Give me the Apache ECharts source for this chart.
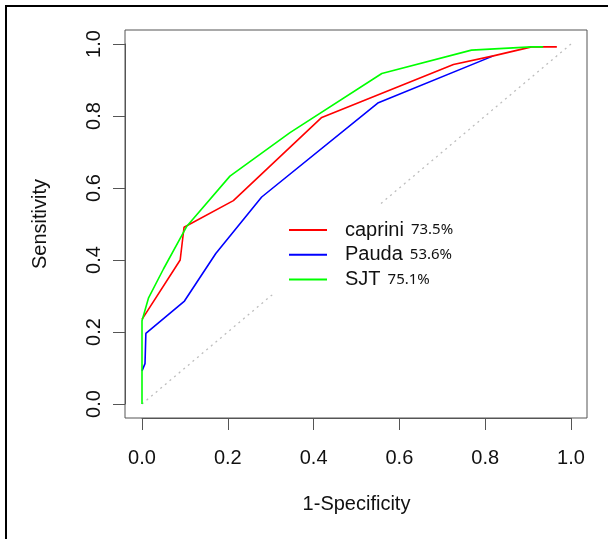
<!DOCTYPE html>
<html>
<head>
<meta charset="utf-8">
<script src="https://cdn.jsdelivr.net/npm/echarts@6/dist/echarts.min.js"></script>
<style>html,body{margin:0;padding:0;background:#fff}#c{width:608px;height:539px}</style>
</head>
<body>
<div id="c"></div>
<script>
// ---- data ----
const seriesNames = ['caprini', 'Pauda', 'SJT'];
const aucLabels = ['73.5%', '53.6%', '75.1%'];
const xTicks = [0.0, 0.2, 0.4, 0.6, 0.8, 1.0];
const yTicks = [0.0, 0.2, 0.4, 0.6, 0.8, 1.0];
const caprini = [[0,0.235],[0.089,0.40],[0.098,0.491],[0.213,0.565],[0.419,0.796],[0.726,0.943],[0.819,0.967],[0.908,0.992],[0.967,0.992]];
const pauda = [[0,0.092],[0.007,0.112],[0.009,0.196],[0.099,0.286],[0.172,0.418],[0.279,0.575],[0.551,0.837],[0.819,0.967]];
const sjt = [[0,0],[0,0.231],[0.015,0.294],[0.05,0.375],[0.104,0.493],[0.205,0.633],[0.345,0.754],[0.559,0.918],[0.768,0.983],[0.908,0.992],[0.935,0.992]];
const diagonal = [[0,0],[1,1]];

const colors = {caprini:'#ff0000', Pauda:'#0000ff', SJT:'#00ff00'};
const font = 'Liberation Sans, Arial, sans-serif';
const axisGray = '#555';

const chart = echarts.init(document.getElementById('c'), null, {renderer:'canvas'});
const aucMap = {};
seriesNames.forEach((n,i)=>aucMap[n]=aucLabels[i]);

const option = {
  animation: false,
  backgroundColor: '#fff',
  grid: [
    {left:142, right:37, top:44, bottom:135},
    {left:125, right:21, top:30, bottom:121, show:true, borderColor:axisGray, borderWidth:1, backgroundColor:'transparent'}
  ],
  xAxis: [
    {type:'value', gridIndex:0, min:0, max:1, interval:0.2, offset:14,
     axisLine:{show:true, onZero:false, lineStyle:{color:axisGray, width:1}},
     axisTick:{show:true, length:12, lineStyle:{color:axisGray}},
     axisLabel:{margin:30, fontSize:20, fontFamily:font, color:'#111', formatter:v=>v.toFixed(1)},
     splitLine:{show:false},
     name:'1-Specificity', nameLocation:'middle', nameGap:76,
     nameTextStyle:{fontSize:20, fontFamily:font, color:'#111'}},
    {type:'value', gridIndex:1, show:false, min:0, max:1}
  ],
  yAxis: [
    {type:'value', gridIndex:0, min:0, max:1, interval:0.2, offset:17,
     axisLine:{show:true, onZero:false, lineStyle:{color:axisGray, width:1}},
     axisTick:{show:true, length:12, lineStyle:{color:axisGray}},
     axisLabel:{margin:21, rotate:90, fontSize:20, fontFamily:font, color:'#111', formatter:v=>v.toFixed(1)},
     splitLine:{show:false},
     name:'Sensitivity', nameLocation:'middle', nameGap:75,
     nameTextStyle:{fontSize:20, fontFamily:font, color:'#111'}},
    {type:'value', gridIndex:1, show:false, min:0, max:1}
  ],
  legend: {
    data: seriesNames,
    icon:'rect',
    orient:'vertical', left:270, top:205,
    padding:[15, 20, 5, 19],
    itemGap:4.7, itemWidth:38, itemHeight:2,
    backgroundColor:'#fff',
    formatter: n => '{a|' + n + '}{b|' + aucMap[n] + '}',
    textStyle:{
      rich:{
        a:{fontSize:20, fontFamily:font, color:'#111', padding:[0,7,0,13], height:20},
        b:{fontSize:15, fontFamily:'Noto Sans, Open Sans, sans-serif', color:'#111', height:20}
      }
    }
  },
  series: [
    {type:'line', name:'diag', data:diagonal, symbol:'none', silent:true, z:1,
     lineStyle:{color:'#bdbdbd', width:1.3, type:[2,4]}},
    {type:'line', name:'Pauda', data:pauda, symbol:'none', z:2, color:colors.Pauda,
     lineStyle:{color:colors.Pauda, width:1.6}},
    {type:'line', name:'caprini', data:caprini, symbol:'none', z:3, color:colors.caprini,
     lineStyle:{color:colors.caprini, width:1.6}},
    {type:'line', name:'SJT', data:sjt, symbol:'none', z:4, color:colors.SJT,
     lineStyle:{color:colors.SJT, width:1.6}}
  ],
  graphic: [
    {type:'polyline', shape:{points:[[6,539],[6,6],[608,6]]}, style:{stroke:'#000', lineWidth:2, fill:null}, silent:true}
  ]
};
chart.setOption(option);
</script>
</body>
</html>
